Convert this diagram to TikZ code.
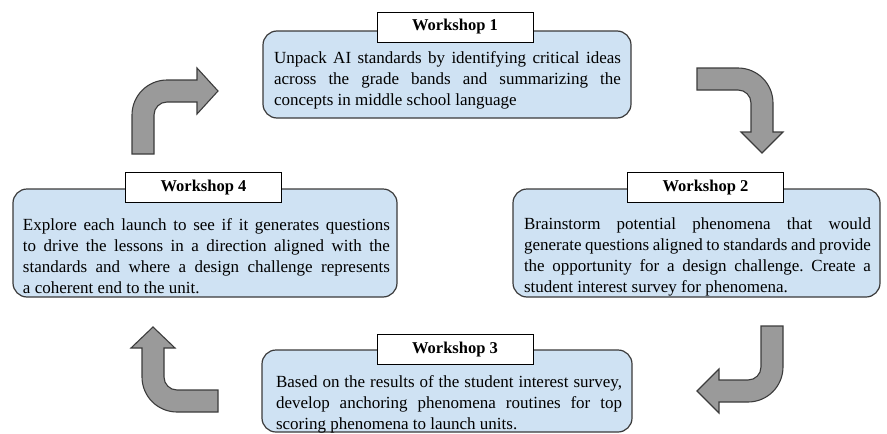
\documentclass[tikz,border=0pt]{standalone}
\usepackage{fontspec}
\setmainfont{Liberation Serif}
\frenchspacing
\definecolor{boxfill}{HTML}{CFE2F3}
\definecolor{boxline}{HTML}{3A3A3A}
\definecolor{arrfill}{HTML}{9A9A9A}
\definecolor{arrline}{HTML}{3C3C3C}
\newcommand\jline[2]{\makebox[#1][s]{#2}}
\begin{document}
\begin{tikzpicture}[x=1pt,y=-1pt,
  wbox/.style={draw=boxline,fill=boxfill,line width=1.2pt,rounded corners=14pt},
  wlabel/.style={draw=black,fill=white,line width=1pt,minimum width=156pt,minimum height=30pt,inner sep=0pt,font=\fontsize{16.5}{18}\selectfont\bfseries},
  wtext/.style={inner sep=0pt,align=left,font=\fontsize{17}{21}\selectfont},
  barrow/.style={draw=arrline,fill=arrfill,line width=1.1pt,line join=miter}]
\useasboundingbox (0,0) rectangle (887,434);
% boxes
\draw[wbox] (263,31) rectangle (631,118);
\draw[wbox] (513,189) rectangle (880,297);
\draw[wbox] (13,189) rectangle (397,297);
\draw[wbox] (262,350) rectangle (632,432);
% labels
\node[wlabel] (l1) at (455,27) {Workshop 1};
\node[wlabel] (l2) at (705.5,187.5) {Workshop 2};
\node[wlabel] (l4) at (203.5,187.5) {Workshop 4};
\node[wlabel] (l3) at (455,349.5) {Workshop 3};
% texts
\node[wtext] (t1) at (447.5,80) {\jline{347pt}{Unpack AI standards by identifying critical ideas}\\
\jline{347pt}{across the grade bands and summarizing the}\\
concepts in middle school language};
\node[wtext] (t2) at (697.5,256.5) {\jline{347pt}{Brainstorm potential phenomena that would}\\
\jline{347pt}{generate questions aligned to standards and provide}\\
\jline{347pt}{the opportunity for a design challenge. Create a}\\
student interest survey for phenomena.};
\node[wtext] (t4) at (206.5,256.5) {\jline{367pt}{Explore each launch to see if it generates questions}\\
\jline{367pt}{to drive the lessons in a direction aligned with the}\\
\jline{367pt}{standards and where a design challenge represents}\\
a coherent end to the unit.};
\node[wtext] (t3) at (449,404) {\jline{346pt}{Based on the results of the student interest survey,}\\
\jline{346pt}{develop anchoring phenomena routines for top}\\
scoring phenomena to launch units.};
% arrows
\draw[barrow] (132,154) -- (132,115) .. controls (132,95.67) and (147.67,80) .. (167,80)
  -- (197,80) -- (197,68) -- (218,91) -- (197,114) -- (197,102) -- (167,102)
  .. controls (159.82,102) and (154,107.82) .. (154,115) -- (154,154) -- cycle;
\draw[barrow] (697,68) -- (738,68) .. controls (757.33,68) and (773,83.67) .. (773,103)
  -- (773,132) -- (783,132) -- (762,153) -- (741,132) -- (751,132) -- (751,103)
  .. controls (751,95.82) and (745.18,90) .. (738,90) -- (697,90) -- cycle;
\draw[barrow] (761,326) -- (783,326) -- (783,367) .. controls (783,386.33) and (767.33,402) .. (748,402)
  -- (719,402) -- (719,413) -- (697,391) -- (719,369) -- (719,380) -- (748,380)
  .. controls (755.18,380) and (761,374.18) .. (761,367) -- cycle;
\draw[barrow] (218,390) -- (177,390) .. controls (169.82,390) and (164,384.18) .. (164,377)
  -- (164,348) -- (175,348) -- (153,327) -- (131,348) -- (142,348) -- (142,377)
  .. controls (142,396.33) and (157.67,412) .. (177,412) -- (218,412) -- cycle;
\end{tikzpicture}
\end{document}
